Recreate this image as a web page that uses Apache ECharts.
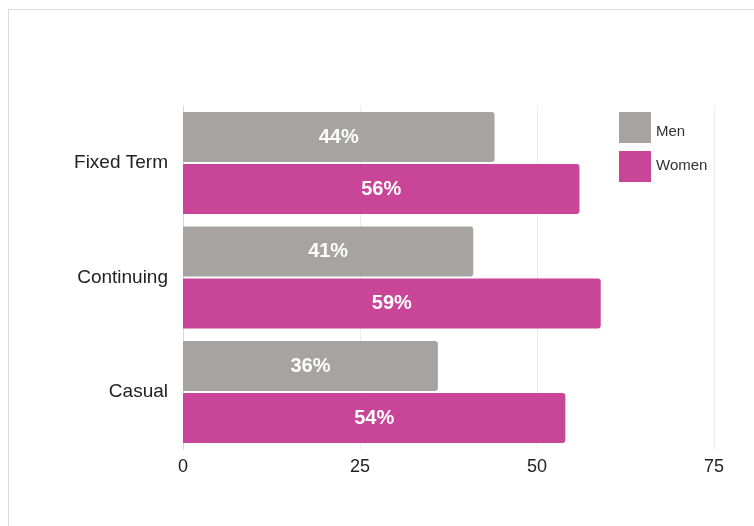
<!DOCTYPE html>
<html>
<head>
<meta charset="utf-8">
<script src="https://cdn.jsdelivr.net/npm/echarts@6/dist/echarts.min.js"></script>
<style>
  html, body { margin: 0; padding: 0; background: #fff; }
  #chart { width: 754px; height: 526px; }
</style>
</head>
<body>
<div id="chart"></div>
<script>
// Employment type by gender (percent)
const categories = ['Fixed Term', 'Continuing', 'Casual'];
const menValues = [44, 41, 36];
const womenValues = [56, 59, 54];
const xTicks = [0, 25, 50, 75];

const chart = echarts.init(document.getElementById('chart'), null, { renderer: 'canvas' });

const FONT = '"Liberation Sans", Arial, sans-serif';

const valueLabel = {
  show: true,
  position: 'inside',
  formatter: p => p.value + '%',
  color: '#fff',
  fontFamily: FONT,
  fontWeight: 'bold',
  fontSize: 20
};

chart.setOption({
  animation: false,
  backgroundColor: '#fff',
  graphic: [{
    type: 'rect',
    shape: { x: 8.5, y: 9.5, width: 800, height: 600 },
    style: { fill: 'none', stroke: '#dcdcdc', lineWidth: 1 },
    silent: true
  }],
  legend: {
    orient: 'vertical',
    left: 614,
    top: 107,
    itemWidth: 32,
    itemHeight: 31,
    itemGap: 8,
    icon: 'rect',
    formatter: name => name === 'Men' ? '{lo|' + name + '}' : '{hi|' + name + '}',
    textStyle: {
      fontFamily: FONT, fontSize: 15, color: '#333',
      rich: {
        lo: { fontFamily: FONT, fontSize: 15, color: '#333', padding: [9, 0, 0, 0] },
        hi: { fontFamily: FONT, fontSize: 15, color: '#333', padding: [0, 0, 2, 0] }
      }
    },
    data: ['Men', 'Women']
  },
  grid: { left: 183, right: 40, top: 105.75, bottom: 76.75, containLabel: false },
  xAxis: {
    type: 'value',
    min: xTicks[0],
    max: xTicks[xTicks.length - 1],
    interval: xTicks[1] - xTicks[0],
    axisLine: { show: false },
    axisTick: { show: false },
    splitLine: { lineStyle: { color: '#ececec', width: 1 } },
    axisLabel: { fontFamily: FONT, fontSize: 18, color: '#222', margin: 9 }
  },
  yAxis: {
    type: 'category',
    data: categories,
    inverse: true,
    axisLine: { show: true, lineStyle: { color: '#d8d8d8' } },
    axisTick: { show: false },
    axisLabel: { fontFamily: FONT, fontSize: 19, color: '#222', margin: 15 }
  },
  series: [
    {
      name: 'Men',
      type: 'bar',
      data: menValues,
      barWidth: 50,
      barGap: '4%',
      itemStyle: { color: '#a7a3a2', borderRadius: [0, 3, 3, 0] },
      label: valueLabel
    },
    {
      name: 'Women',
      type: 'bar',
      data: womenValues,
      barWidth: 50,
      itemStyle: { color: '#c84597', borderRadius: [0, 3, 3, 0] },
      label: valueLabel
    }
  ]
});
</script>
</body>
</html>
